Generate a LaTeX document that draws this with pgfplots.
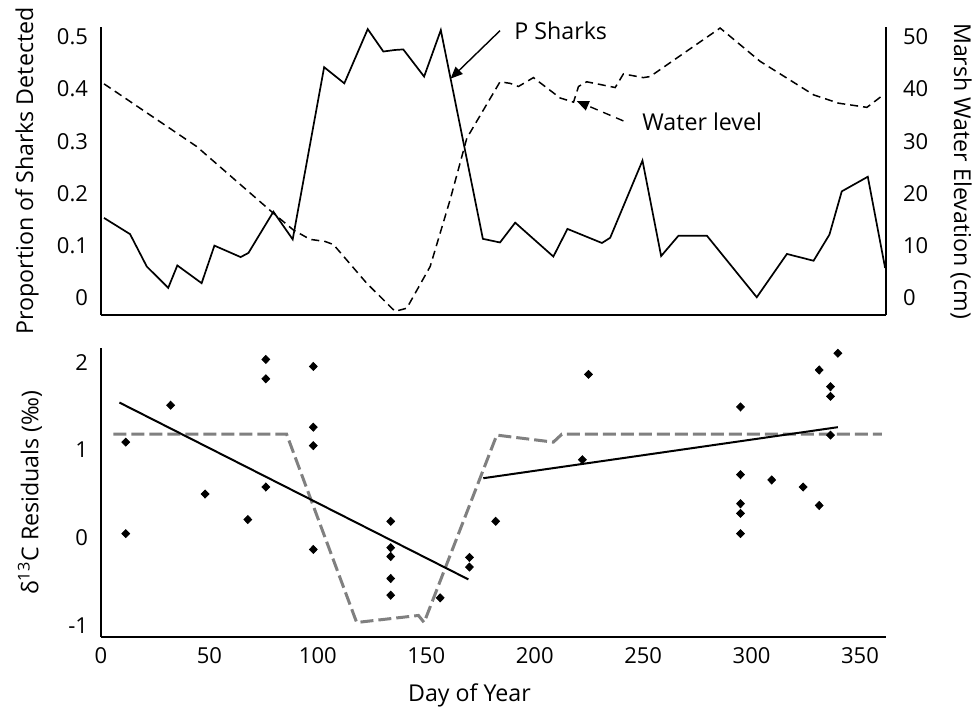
\documentclass[border=0pt]{standalone}
\usepackage{pgfplots}
\pgfplotsset{compat=1.18}
\usepackage{fontspec}
\setmainfont{Open Sans}
\usetikzlibrary{arrows.meta}
\newcommand{\fs}{\fontsize{11}{13}\selectfont}
\newcommand{\fl}{\fontsize{11.6}{13.5}\selectfont}
\pgfplotsset{
  base/.style={
    scale only axis, width=392.5pt,
    xmin=0, xmax=362,
    major tick length=0pt,
    tick label style={font=\fs},
    /pgf/number format/assume math mode=true,
    clip=false,
  },
  noarrows/.style={
    every outer x axis line/.append style={-},
    every outer y axis line/.append style={-},
    axis line style={line width=1pt,-},
  }
}
\begin{document}
\begin{tikzpicture}
\path[use as bounding box] (0,0) rectangle (487pt,354pt);
% ---------- top panel, left axis ----------
\begin{axis}[base, at={(50.5pt,196.5pt)}, anchor=south west, height=144pt,
  axis x line=bottom, axis y line=left, xtick=\empty,
  ymin=-0.033, ymax=0.519, ytick={0,0.1,0.2,0.3,0.4,0.5},
  yticklabels={0,0.1,0.2,0.3,0.4,0.5},
  yticklabel style={xshift=-3pt},
  ylabel={Proportion of Sharks Detected},
  every axis y label/.style={at={(axis description cs:0,0.5)}, xshift=-37pt, rotate=90, anchor=center, font=\fl},
  noarrows]
\addplot[black, line width=0.85pt] coordinates {
(1.4,0.153) (13.4,0.122) (21.1,0.060) (31.0,0.019) (35.2,0.062) (46.4,0.028)
(52.3,0.100) (64.4,0.078) (68.0,0.086) (79.5,0.165) (88.4,0.112) (102.9,0.442)
(112.2,0.411) (123.0,0.515) (130.2,0.472) (135.6,0.475) (139.4,0.476) (149.0,0.424)
(156.7,0.513) (176.1,0.113) (184.0,0.106) (191.0,0.144) (208.6,0.079) (215.1,0.132)
(231.0,0.105) (234.8,0.115) (249.7,0.263) (258.3,0.080) (266.3,0.119) (279.4,0.119)
(302.4,0.001) (316.3,0.084) (328.6,0.071) (335.9,0.121) (341.6,0.204) (353.6,0.232)
(361.6,0.057)};
\node[font=\fl, anchor=center] at (axis cs:212.0,0.511) {P Sharks};
\draw[-{Triangle[length=6pt,width=5pt]}, line width=0.7pt] (axis cs:184,0.512) -- (axis cs:161.2,0.420);
\node[font=\fl, anchor=west, inner sep=0pt] at (axis cs:249.5,0.337) {Water level};
\draw[-{Triangle[length=6pt,width=5pt]}, line width=0.7pt, dash pattern=on 4pt off 3pt] (axis cs:240.9,0.339) -- (axis cs:219.4,0.377);
\end{axis}
% ---------- top panel, right axis ----------
\begin{axis}[base, at={(50.5pt,196.5pt)}, anchor=south west, height=144pt,
  hide x axis, axis y line=right,
  ymin=-3.3, ymax=51.9, ytick={0,10,20,30,40,50},
  yticklabels={0,10,20,30,40,50},
  yticklabel style={xshift=5pt},
  ylabel={Marsh Water Elevation (cm)},
  every axis y label/.style={at={(axis description cs:1,0.5)}, xshift=37.5pt, rotate=-90, anchor=center, font=\fl},
  noarrows]
\addplot[black, line width=0.75pt, dash pattern=on 4pt off 2.5pt] coordinates {
(1.4,41.0) (44.1,29.0) (79.5,16.2) (88.7,13.0) (96.4,11.2) (103.3,10.8) (107.2,10.2)
(122.5,2.8) (135.6,-2.6) (141.0,-2.0) (151.8,6.0) (161.0,18.8) (168.7,30.6)
(184.0,41.4) (188.7,41.1) (192.5,40.5) (199.4,42.2) (211.7,38.3) (217.9,37.5)
(220.2,40.5) (224.0,41.4) (237.1,40.3) (240.9,42.9) (250.1,42.2) (253.2,42.4)
(285.5,51.7) (304.0,45.3) (328.6,38.9) (340.1,37.3) (353.2,36.5) (360.8,38.9)};
\end{axis}
% ---------- bottom panel ----------
\begin{axis}[base, at={(50.5pt,35.5pt)}, anchor=south west, height=144.5pt,
  axis x line=bottom, axis y line=left,
  xtick={0,50,100,150,200,250,300,350},
  xticklabels={0,50,100,150,200,250,300,350},
  xticklabel style={yshift=-1.5pt},
  ymin=-1.125, ymax=2.16, ytick={-1,0,1,2}, yticklabels={-1,0,1,2},
  yticklabel style={xshift=-3pt},
  xlabel={Day of Year},
  ylabel={δ\textsuperscript{13}C Residuals (‰)},
  every axis x label/.style={at={(axis description cs:0.5,0)}, yshift=-29pt, xshift=-12pt, anchor=center, font=\fl},
  every axis y label/.style={at={(axis description cs:0,0.5)}, xshift=-35.5pt, rotate=90, anchor=center, font=\fl},
  noarrows]
\addplot[color={rgb,255:red,128;green,128;blue,128}, line width=1.5pt, dash pattern=on 6.5pt off 2.5pt] coordinates {
(5.7,1.18) (85.6,1.18) (117.9,-0.96) (146.4,-0.88) (149.0,-0.96) (182.5,1.17)
(208.6,1.09) (212.5,1.18) (360.1,1.18)};
\addplot[black, line width=1pt] coordinates {(8.5,1.54) (169.4,-0.47)};
\addplot[black, line width=1pt] coordinates {(176.3,0.68) (339.8,1.26)};
\addplot[only marks, mark=diamond*, mark size=2pt, mark options={xscale=1.3}, black] coordinates {
(11.4,1.09) (11.4,0.05) (32.1,1.51) (48.0,0.50) (67.7,0.21) (76.0,2.03) (76.0,1.81)
(76.0,0.58) (97.9,1.95) (97.9,1.26) (97.9,1.05) (97.9,-0.13) (133.6,0.19) (133.6,-0.11)
(133.6,-0.21) (133.6,-0.46) (133.6,-0.65) (156.4,-0.68) (169.9,-0.22) (169.9,-0.33)
(182.0,0.19) (224.8,1.86) (222.0,0.89) (294.9,1.49) (294.9,0.72) (294.9,0.39)
(294.9,0.28) (294.9,0.05) (309.3,0.66) (323.8,0.58) (331.2,1.91) (331.2,0.37)
(336.4,1.72) (336.4,1.61) (336.4,1.17) (339.8,2.10)};
\end{axis}
\end{tikzpicture}
\end{document}
